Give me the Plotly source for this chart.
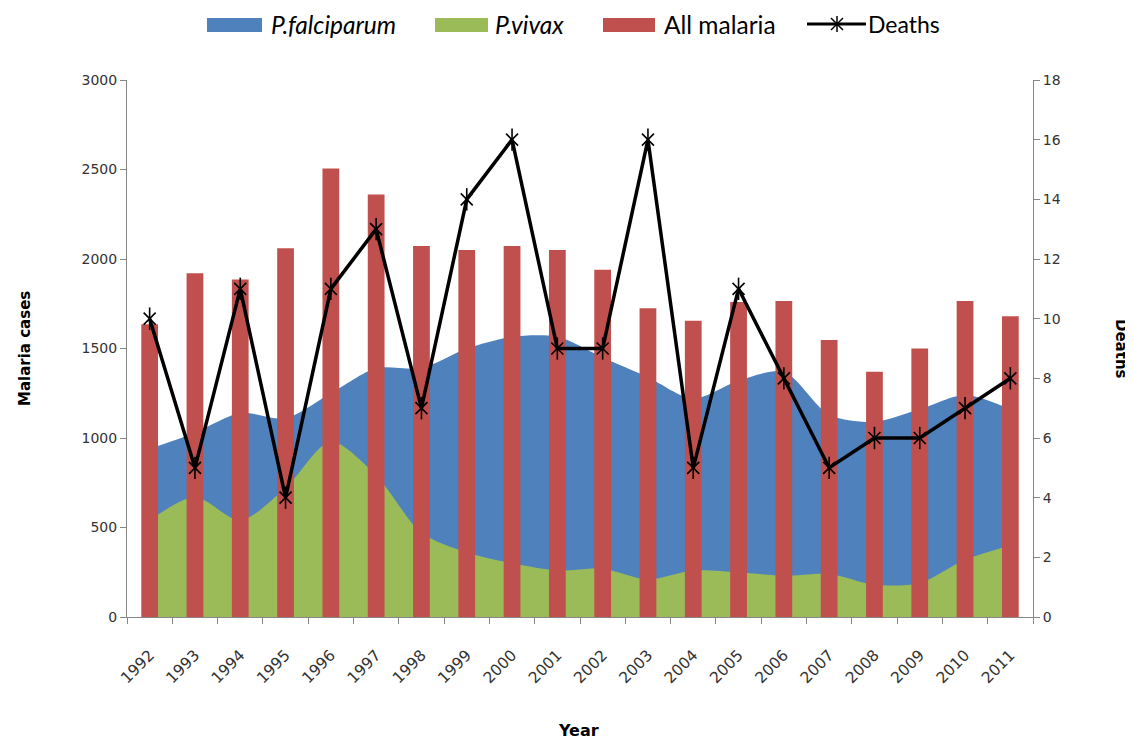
import plotly.graph_objects as go

years = [str(y) for y in range(1992, 2012)]
falciparum = [940, 1030, 1140, 1110, 1250, 1390, 1390, 1500, 1565, 1565, 1450, 1340, 1220, 1320, 1370, 1130, 1090, 1160, 1240, 1160]
vivax = [540, 670, 540, 720, 980, 790, 470, 360, 300, 260, 270, 210, 260, 250, 230, 240, 180, 190, 320, 400]
all_malaria = [1635, 1920, 1885, 2060, 2505, 2360, 2072, 2050, 2072, 2050, 1940, 1725, 1655, 1760, 1765, 1548, 1370, 1500, 1765, 1680]
deaths = [10, 5, 11, 4, 11, 13, 7, 14, 16, 9, 9, 16, 5, 11, 8, 5, 6, 6, 7, 8]

BLUE = "#4F81BD"
GREEN = "#9BBB59"
RED = "#C0504D"
AXIS = "#868686"
TICKFONT = dict(family="DejaVu Sans", size=14, color="#333333")
XTICKFONT = dict(family="DejaVu Sans", size=15.5, color="#333333")

# page has 8px body margin; compensate
OFF = 8
W, H = 1125, 735
l, r, t, b = 119, 100, 72, 126
pw, ph = W - l - r, H - t - b


def px(xp):
    return (xp - OFF - l) / pw


def py(yp):
    return (H - b - (yp - OFF)) / ph


fig = go.Figure()
fig.add_trace(go.Scatter(
    x=years, y=falciparum, name="P.falciparum", mode="none",
    fill="tozeroy", fillcolor=BLUE, line=dict(shape="spline", smoothing=0.8),
    xaxis="x", yaxis="y", showlegend=False))
fig.add_trace(go.Scatter(
    x=years, y=vivax, name="P.vivax", mode="none",
    fill="tozeroy", fillcolor=GREEN, line=dict(shape="spline", smoothing=0.8),
    xaxis="x", yaxis="y", showlegend=False))
fig.add_trace(go.Bar(
    x=years, y=all_malaria, name="All malaria", marker=dict(color=RED, line=dict(width=0)),
    width=0.37, xaxis="x", yaxis="y2", showlegend=False))
fig.add_trace(go.Scatter(
    x=years, y=deaths, name="Deaths", mode="lines+markers",
    line=dict(color="black", width=3.5),
    marker=dict(symbol="x-thin-open", size=12, color="black", line=dict(color="black", width=1.6)),
    xaxis="x", yaxis="y3", showlegend=False))
fig.add_trace(go.Scatter(
    x=years, y=deaths, name="Deaths", mode="markers",
    marker=dict(symbol="line-ns-open", size=16, color="black", line=dict(color="black", width=1.6)),
    xaxis="x", yaxis="y3", showlegend=False, hoverinfo="skip"))

fig.update_layout(
    width=W, height=H,
    margin=dict(l=l, r=r, t=t, b=b),
    paper_bgcolor="white", plot_bgcolor="white",
    showlegend=False,
    xaxis=dict(type="category", range=[-0.5, 19.5], showline=True, linecolor=AXIS, linewidth=1,
               ticks="outside", tickson="boundaries", ticklen=6, tickcolor=AXIS,
               tickangle=-45, tickfont=XTICKFONT, ticklabelstandoff=22,
               showgrid=False, zeroline=False),
    yaxis=dict(range=[0, 3000], tickvals=[0, 500, 1000, 1500, 2000, 2500, 3000],
               showline=True, linecolor=AXIS, linewidth=1, ticks="outside", ticklen=6,
               tickcolor=AXIS, tickfont=TICKFONT, showgrid=False, zeroline=False),
    yaxis2=dict(range=[0, 3000], overlaying="y", visible=False),
    yaxis3=dict(range=[0, 18], tickvals=list(range(0, 19, 2)), overlaying="y", side="right",
                showline=True, linecolor=AXIS, linewidth=1, ticks="outside", ticklen=6,
                tickcolor=AXIS, tickfont=TICKFONT, showgrid=False, zeroline=False),
)

# axis titles
fig.add_annotation(text="<b>Malaria cases</b>", textangle=-90, x=px(25), y=py(349),
                   xref="paper", yref="paper", xanchor="center", yanchor="middle", showarrow=False,
                   font=dict(family="DejaVu Sans", size=15, color="black"))
fig.add_annotation(text="<b>Deaths</b>", textangle=90, x=px(1121), y=py(349),
                   xref="paper", yref="paper", xanchor="center", yanchor="middle", showarrow=False,
                   font=dict(family="DejaVu Sans", size=15, color="black"))
fig.add_annotation(text="<b>Year</b>", x=px(578), y=py(730),
                   xref="paper", yref="paper", xanchor="center", yanchor="middle", showarrow=False,
                   font=dict(family="DejaVu Sans", size=16, color="black"))

# manual legend
LEG_FONT = dict(family="Lato", size=24.5, color="black")
legend_items = [
    (BLUE, 207, 262, "<i>P.falciparum</i>", 269),
    (GREEN, 435, 488, "<i>P.vivax</i>", 493),
    (RED, 603, 655, "All malaria", 662),
]
for color, x0, x1, label, tx in legend_items:
    fig.add_shape(type="rect", xref="paper", yref="paper", x0=px(x0), x1=px(x1),
                  y0=py(32), y1=py(18), fillcolor=color, line=dict(width=0))
    fig.add_annotation(text=label, x=px(tx), y=py(24), xref="paper", yref="paper",
                       xanchor="left", yanchor="middle", showarrow=False, font=LEG_FONT)

fig.add_shape(type="line", xref="paper", yref="paper", x0=px(807), x1=px(866), y0=py(24), y1=py(24),
              line=dict(color="black", width=3))
for (ax0, ay0, ax1, ay1) in [(831, 18, 843, 30), (843, 18, 831, 30), (837, 16, 837, 32)]:
    fig.add_shape(type="line", xref="paper", yref="paper", x0=px(ax0), x1=px(ax1),
                  y0=py(ay0), y1=py(ay1), line=dict(color="black", width=1.5))
fig.add_annotation(text="Deaths", x=px(866), y=py(24), xref="paper", yref="paper",
                   xanchor="left", yanchor="middle", showarrow=False,
                   font=dict(family="Lato", size=23, color="black"))

fig.write_html("out.html")
